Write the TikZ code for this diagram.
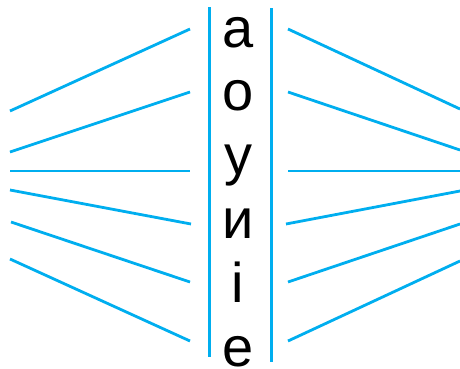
\documentclass[tikz,border=0pt]{standalone}
\usepackage{fontspec}
\setmainfont{Liberation Sans}
\definecolor{lineblue}{RGB}{0,174,239}
\tikzset{blueline/.style={line width=2.8pt, lineblue}}
\begin{document}
\begin{tikzpicture}[x=1pt, y=-1pt, every node/.style={font=\fontsize{56}{60}\selectfont, anchor=base, inner sep=0pt}]
\useasboundingbox (0,0) rectangle (460,368);
\draw[blueline] (209.5,7) -- (209.5,357);
\draw[blueline] (271.5,8) -- (271.5,362);
\node (a) at (238,47) {а};
\node (o) at (238,110.8) {о};
\node (u) at (238,174.6) {у};
\node (y) at (238,238.4) {и};
\node (i) at (238,302.2) {і};
\node (e) at (238,366) {е};
% left side
\draw[blueline] (10,111) -- (190,29);
\draw[blueline] (10,152) -- (190,92);
\draw[blueline] (10,171) -- (190,171);
\draw[blueline] (10,190) -- (191,224);
\draw[blueline] (11,222) -- (190,282);
\draw[blueline] (10,259) -- (190,341);
% right side
\draw[blueline] (288,29) -- (460,109);
\draw[blueline] (288,92) -- (460,150);
\draw[blueline] (288,171) -- (460,171);
\draw[blueline] (286,224) -- (460,191);
\draw[blueline] (288,282) -- (460,224);
\draw[blueline] (288,341) -- (460,261);
\end{tikzpicture}
\end{document}
